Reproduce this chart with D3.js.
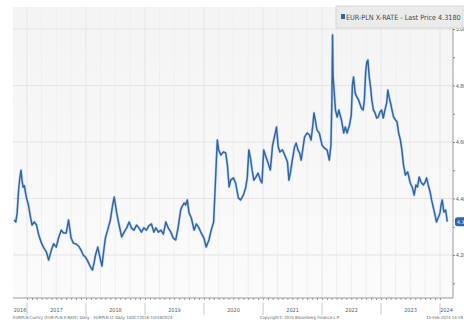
<!DOCTYPE html>
<html>
<head>
<meta charset="utf-8">
<script src="https://cdn.jsdelivr.net/npm/d3@7"></script>
<style>
  body { margin: 0; background: #fff; }
  svg { display: block; font-family: "Liberation Sans Narrow", "DejaVu Sans Condensed", "Liberation Sans", sans-serif; }
</style>
</head>
<body>
<svg id="main" width="464" height="322"></svg>
<script>
// EUR-PLN, about twice a month
const dates = [
  "2016-10-14","2016-10-24","2016-11-01","2016-11-10","2016-11-17","2016-11-25","2016-12-01","2016-12-08","2016-12-16","2016-12-23","2016-12-30",
  "2017-01-10","2017-01-20","2017-02-01","2017-02-15","2017-03-01","2017-03-15","2017-04-01","2017-04-15","2017-05-01","2017-05-15","2017-06-01","2017-06-15",
  "2017-07-01","2017-07-15","2017-08-01","2017-08-15","2017-09-01","2017-09-15","2017-10-01","2017-10-15","2017-11-01","2017-11-15","2017-12-01","2017-12-15",
  "2018-01-01","2018-01-15","2018-02-01","2018-02-10","2018-02-20","2018-03-01","2018-03-15","2018-04-01","2018-04-10","2018-04-20","2018-05-01","2018-05-15",
  "2018-06-01","2018-06-15","2018-06-25","2018-07-10","2018-07-25","2018-08-10","2018-08-25","2018-09-10","2018-09-25","2018-10-10","2018-10-25","2018-11-10",
  "2018-11-25","2018-12-10","2018-12-25",
  "2019-01-10","2019-01-25","2019-02-10","2019-02-25","2019-03-10","2019-03-25","2019-04-10","2019-04-25","2019-05-10","2019-05-25","2019-06-10","2019-06-25",
  "2019-07-10","2019-07-25","2019-08-10","2019-08-20","2019-09-01","2019-09-10","2019-09-20","2019-10-01","2019-10-15","2019-11-01","2019-11-15","2019-12-01","2019-12-15",
  "2020-01-01","2020-01-15","2020-02-01","2020-02-15","2020-03-01","2020-03-10","2020-03-18","2020-03-24","2020-04-01","2020-04-15","2020-05-01","2020-05-15",
  "2020-05-25","2020-06-05","2020-06-15","2020-07-01","2020-07-15","2020-08-01","2020-08-15","2020-09-01","2020-09-15","2020-09-25","2020-10-05","2020-10-15",
  "2020-10-25","2020-11-05","2020-11-15","2020-12-01","2020-12-15","2020-12-25",
  "2021-01-05","2021-01-15","2021-02-01","2021-02-15","2021-03-01","2021-03-15","2021-03-25","2021-04-05","2021-04-15","2021-05-01","2021-05-15","2021-06-01",
  "2021-06-10","2021-06-20","2021-07-01","2021-07-15","2021-07-25","2021-08-05","2021-08-15","2021-08-25","2021-09-05","2021-09-15","2021-10-01","2021-10-15",
  "2021-10-25","2021-11-05","2021-11-12","2021-11-20","2021-12-01","2021-12-15",
  "2022-01-01","2022-01-15","2022-02-01","2022-02-15","2022-02-25","2022-03-03","2022-03-07","2022-03-10","2022-03-15","2022-03-25","2022-04-05","2022-04-15",
  "2022-05-01","2022-05-15","2022-05-25","2022-06-05","2022-06-20","2022-07-01","2022-07-08","2022-07-15","2022-07-25","2022-08-05","2022-08-15","2022-09-01",
  "2022-09-12","2022-09-20","2022-09-28","2022-10-05","2022-10-12","2022-10-20","2022-10-28","2022-11-05","2022-11-15","2022-11-25","2022-12-05","2022-12-15","2022-12-25",
  "2023-01-05","2023-01-15","2023-01-25","2023-02-05","2023-02-12","2023-02-20","2023-03-01","2023-03-10","2023-03-20","2023-04-01","2023-04-10","2023-04-20",
  "2023-05-01","2023-05-10","2023-05-20","2023-06-01","2023-06-15","2023-07-01","2023-07-15","2023-07-25","2023-08-05","2023-08-15","2023-08-25","2023-09-05",
  "2023-09-20","2023-10-01","2023-10-10","2023-10-20","2023-11-01","2023-11-10","2023-11-20","2023-12-01","2023-12-10","2023-12-20",
  "2024-01-01","2024-01-08","2024-01-15","2024-01-25","2024-02-05","2024-02-15"
];
const rates = [
  4.324,4.317,4.349,4.430,4.470,4.500,4.465,4.440,4.445,4.420,4.400,
  4.377,4.342,4.306,4.317,4.306,4.270,4.242,4.225,4.211,4.182,4.218,4.240,
  4.228,4.260,4.288,4.278,4.278,4.324,4.260,4.242,4.239,4.232,4.218,4.200,
  4.190,4.175,4.154,4.147,4.172,4.200,4.228,4.182,4.161,4.211,4.260,4.288,
  4.324,4.377,4.405,4.349,4.306,4.264,4.281,4.296,4.317,4.296,4.288,4.306,
  4.296,4.281,4.296,
  4.288,4.303,4.310,4.281,4.296,4.281,4.288,4.274,4.317,4.296,4.281,4.260,
  4.253,4.296,4.359,4.373,4.384,4.377,4.395,4.349,4.331,4.288,4.310,4.296,4.278,
  4.260,4.228,4.253,4.288,4.317,4.430,4.536,4.607,4.572,4.554,4.565,4.561,
  4.519,4.441,4.465,4.473,4.455,4.402,4.395,4.412,4.437,4.473,4.572,4.543,
  4.501,4.465,4.473,4.490,4.465,4.455,
  4.572,4.554,4.526,4.501,4.589,4.625,4.653,4.582,4.565,4.572,4.554,4.529,
  4.465,4.494,4.536,4.582,4.596,4.572,4.561,4.536,4.579,4.618,4.632,4.625,
  4.607,4.660,4.703,4.678,4.642,4.632,
  4.589,4.579,4.572,4.536,4.589,4.749,4.979,4.837,4.795,4.713,4.688,4.713,
  4.678,4.632,4.653,4.632,4.660,4.696,4.802,4.830,4.773,4.759,4.749,4.720,
  4.713,4.749,4.848,4.883,4.890,4.830,4.795,4.749,4.713,4.703,4.685,4.688,4.706,
  4.713,4.685,4.713,4.738,4.784,4.759,4.738,4.713,4.688,4.678,4.671,4.632,
  4.607,4.572,4.519,4.483,4.494,4.455,4.437,4.412,4.448,4.441,4.476,4.458,
  4.448,4.458,4.473,4.448,4.423,4.395,4.370,4.342,4.317,4.331,
  4.349,4.377,4.395,4.352,4.359,4.318
];
const yTicks = [4.20, 4.40, 4.60, 4.80, 5.00];
const years = [2016, 2017, 2018, 2019, 2020, 2021, 2022, 2023, 2024];
const lastPrice = 4.3180;
const legendText = "EUR-PLN X-RATE - Last Price 4.3180";
const footLeft = "EURPLN Curncy (EUR-PLN X-RATE) Daily - EURPLN LT Daily 14OCT2016-15FEB2024";
const footMid = "Copyright\u00a9 2024 Bloomberg Finance L.P.";
const footRight = "15-Feb-2024 14:59";

const parse = d3.timeParse("%Y-%m-%d");
const data = dates.map((d, i) => ({ date: parse(d), v: rates[i] }));

const svg = d3.select("#main");
const plotL = 13, plotR = 453, plotT = 7, plotB = 298;
const blue = "#2f66a8";

const x = d3.scaleTime()
  .domain([new Date(2017, 0, 1), new Date(2024, 0, 1)])
  .range([27, 440]);
const y = d3.scaleLinear().domain([4.20, 5.00]).range([255, 29]);

// plot background
const defs = svg.append("defs");
const grad = defs.append("linearGradient").attr("id", "bg").attr("x1", 0).attr("x2", 0).attr("y1", 0).attr("y2", 1);
grad.append("stop").attr("offset", "0%").attr("stop-color", "#f4f4f4");
grad.append("stop").attr("offset", "100%").attr("stop-color", "#fbfbfb");
svg.append("rect").attr("x", plotL).attr("y", plotT).attr("width", plotR - plotL).attr("height", plotB - plotT).attr("fill", "url(#bg)");

// faint quarterly gridlines
const quarters = d3.timeMonth.every(3).range(new Date(2016, 9, 1), new Date(2024, 2, 1)).filter(d => x(d) > plotL);
svg.append("g").selectAll("line").data(quarters).join("line")
  .attr("x1", d => x(d)).attr("x2", d => x(d)).attr("y1", plotT).attr("y2", plotB)
  .attr("stroke", d => d.getMonth() === 0 ? "#e6e6e6" : "#efefef").attr("stroke-width", 1);

// horizontal gridlines
svg.append("g").selectAll("line").data(yTicks).join("line")
  .attr("x1", plotL).attr("x2", plotR).attr("y1", d => y(d)).attr("y2", d => y(d))
  .attr("stroke", "#e4e4e4");

// series line
const line = d3.line().x(d => x(d.date)).y(d => y(d.v)).curve(d3.curveLinear);
svg.append("path").datum(data).attr("d", line)
  .attr("fill", "none").attr("stroke", "#9dbbe0").attr("stroke-width", 2.8).attr("stroke-opacity", 0.45).attr("stroke-linejoin", "round");
svg.append("path").datum(data).attr("d", line)
  .attr("fill", "none").attr("stroke", blue).attr("stroke-width", 1.5).attr("stroke-linejoin", "round");

// bottom axis: dashed line with monthly ticks
const xAxis = d3.axisBottom(x)
  .ticks(d3.timeMonth.every(1))
  .tickSize(2).tickFormat("");
const gx = svg.append("g").attr("transform", `translate(0,${plotB})`).call(xAxis);
gx.select(".domain").attr("stroke", "#9a9a9a").attr("d", `M${plotL},0H${plotR}`);
gx.selectAll(".tick").filter(d => x(d) < plotL || x(d) > plotR).remove();
gx.selectAll(".tick line").attr("stroke", "#9a9a9a");

// year separators and labels
const yearStarts = years.slice(1).map(yr => new Date(yr, 0, 1));
svg.append("g").selectAll("line").data(yearStarts).join("line")
  .attr("x1", d => x(d)).attr("x2", d => x(d)).attr("y1", 303).attr("y2", 315)
  .attr("stroke", "#c8c8c8");
svg.append("g").selectAll("text").data(years).join("text")
  .attr("x", yr => {
    const a = Math.max(plotL, x(new Date(yr, 0, 1)));
    const b = Math.min(plotR, x(new Date(yr + 1, 0, 1)));
    return (a + b) / 2;
  })
  .attr("y", 312).attr("text-anchor", "middle")
  .attr("font-size", 5.5).attr("fill", "#555").text(d => d);

// right axis
const yAxis = d3.axisRight(y).tickValues(d3.range(4.1, 5.051, 0.1)).tickSize(2)
  .tickFormat(d => yTicks.some(t => Math.abs(t - d) < 1e-6) ? d3.format(".2f")(d) : "");
const gy = svg.append("g").attr("transform", `translate(${plotR},0)`).call(yAxis);
gy.select(".domain").attr("stroke", "#9a9a9a").attr("d", `M0,${plotT}V${plotB}`);
gy.selectAll(".tick line").attr("stroke", "#888");
gy.selectAll(".tick text").attr("x", 3).attr("font-size", 5).attr("fill", "#555")
  .attr("font-family", "'Liberation Sans Narrow', sans-serif");

// last price tag
const ly = y(lastPrice);
svg.append("rect").attr("x", 455).attr("y", ly - 4.5).attr("width", 14).attr("height", 9)
  .attr("rx", 2.5).attr("fill", blue);
svg.append("text").attr("x", 457).attr("y", ly + 2).attr("font-size", 5.2).attr("fill", "#fff")
  .text(d3.format(".3f")(lastPrice));

// legend
svg.append("rect").attr("x", 336).attr("y", 6).attr("width", 127).attr("height", 22)
  .attr("fill", "#ebebeb").attr("stroke", "#d6d6d6");
svg.append("rect").attr("x", 341).attr("y", 14).attr("width", 4).attr("height", 5).attr("fill", blue);
svg.append("text").attr("x", 346).attr("y", 19.5).attr("font-size", 7.2).attr("fill", "#444").text(legendText);

// footer
svg.append("text").attr("x", 13).attr("y", 319).attr("font-size", 4.3).attr("fill", "#666").text(footLeft);
svg.append("text").attr("x", 260).attr("y", 319).attr("font-size", 4.3).attr("fill", "#666").text(footMid);
svg.append("text").attr("x", 463).attr("y", 319).attr("text-anchor", "end").attr("font-size", 4.3).attr("fill", "#666").text(footRight);
</script>
</body>
</html>
